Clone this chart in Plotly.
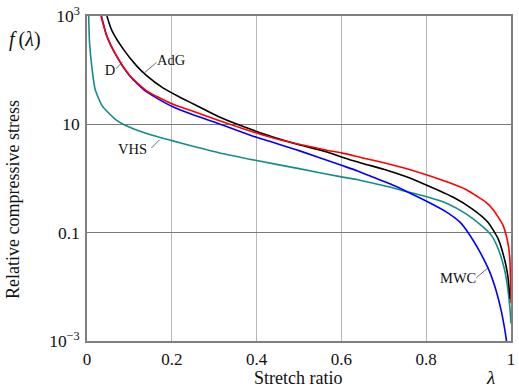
import plotly.graph_objects as go

# ---- data ----
adg_x = [0.047, 0.058, 0.086, 0.117, 0.140, 0.179, 0.217, 0.250, 0.311, 0.400, 0.450, 0.500, 0.568, 0.600, 0.650, 0.700, 0.750, 0.800, 0.864, 0.910, 0.945, 0.969, 0.984, 0.992, 0.998]
adg_y = [1000, 556, 242, 120, 80, 47, 32.3, 24, 13.8, 7.4, 5.5, 4.2, 3.06, 2.5, 1.9, 1.48, 1.1, 0.76, 0.45, 0.27, 0.158, 0.079, 0.034, 0.017, 0.006]

d_x = [0.033, 0.047, 0.070, 0.101, 0.140, 0.200, 0.250, 0.311, 0.400, 0.450, 0.500, 0.568, 0.600, 0.650, 0.700, 0.750, 0.800, 0.852, 0.895, 0.918, 0.940, 0.957, 0.981, 0.992, 0.997, 1.000]
d_y = [1000, 420, 182, 80, 42, 24, 17.4, 11.8, 6.9, 5.3, 4.3, 3.3, 2.97, 2.4, 1.95, 1.54, 1.17, 0.85, 0.62, 0.48, 0.37, 0.27, 0.138, 0.069, 0.035, 0.005]

mwc_x = [0.034, 0.047, 0.070, 0.101, 0.140, 0.200, 0.250, 0.311, 0.400, 0.500, 0.600, 0.638, 0.677, 0.716, 0.755, 0.801, 0.848, 0.879, 0.899, 0.926, 0.949, 0.965, 0.977, 0.988, 0.990]
mwc_y = [1000, 420, 180, 78, 40, 21.5, 15, 10.3, 5.75, 3.27, 1.75, 1.38, 1.04, 0.79, 0.57, 0.38, 0.24, 0.158, 0.1, 0.045, 0.0195, 0.0085, 0.0036, 0.0012, 0.0009]

vhs_x = [0.004, 0.006, 0.012, 0.019, 0.035, 0.050, 0.070, 0.090, 0.120, 0.156, 0.200, 0.250, 0.311, 0.400, 0.500, 0.600, 0.638, 0.677, 0.716, 0.755, 0.801, 0.848, 0.895, 0.934, 0.953, 0.969, 0.984, 0.992, 0.998, 1.000]
vhs_y = [1000, 320, 104, 45, 22.4, 16.5, 11.8, 9.6, 7.7, 6.2, 5.0, 3.95, 3.0, 2.15, 1.52, 1.07, 0.95, 0.81, 0.69, 0.57, 0.46, 0.35, 0.22, 0.128, 0.091, 0.052, 0.022, 0.0098, 0.0036, 0.0021]

series_names = ["VHS", "MWC", "AdG", "D"]
series_colors = ["#138d8a", "#0000ff", "#000000", "#ff0000"]

# curve labels and their leader lines (data coords)
label_text = ["D", "AdG", "VHS", "MWC"]
label_x = [0.0544, 0.1986, 0.1075, 0.8754]
label_y = [97, 147.6, 3.37, 0.0138]
leader_x = [[0.0685, 0.0841], [0.1362, 0.1636], [0.1519, 0.1713], [0.9182, 0.9479]]
leader_y = [[107, 141.6], [90.8, 138], [3.66, 5.19], [0.01476, 0.0231]]

x_ticks = [0, 0.2, 0.4, 0.6, 0.8, 1]
x_ticktext = ["0", "0.2", "0.4", "0.6", "0.8", "1"]
y_ticks = [1e-3, 0.1, 10, 1e3]
y_ticktext = ["10<sup>\u22123</sup>", "0.1", "10", "10<sup>3</sup>"]

FONT = "Liberation Serif"
TXT = "#111111"

fig = go.Figure()
data = {"AdG": (adg_x, adg_y), "D": (d_x, d_y), "MWC": (mwc_x, mwc_y), "VHS": (vhs_x, vhs_y)}
for name, col in zip(series_names, series_colors):
    xs, ys = data[name]
    fig.add_trace(go.Scatter(x=xs, y=ys, mode="lines", name=name,
                             line=dict(color=col, width=1.6, shape="spline", smoothing=0.6),
                             showlegend=False, hoverinfo="skip"))

for lx, ly in zip(leader_x, leader_y):
    fig.add_trace(go.Scatter(x=lx, y=ly, mode="lines", line=dict(color="#444444", width=0.8),
                             showlegend=False, hoverinfo="skip"))

fig.add_trace(go.Scatter(x=label_x, y=label_y, mode="text", text=label_text,
                         textposition="middle center",
                         textfont=dict(family=FONT, size=14.5, color=TXT),
                         showlegend=False, hoverinfo="skip"))

fig.update_xaxes(range=[0, 1], tickvals=x_ticks, ticktext=x_ticktext,
                 showgrid=True, gridcolor="#b8b8b8", gridwidth=1,
                 showline=True, linecolor="#7f7f7f", linewidth=1.5, mirror=True,
                 zeroline=False, ticks="outside", ticklen=2, tickcolor="rgba(0,0,0,0)",
                 ticklabeloverflow="allow",
                 tickfont=dict(family=FONT, size=17, color=TXT))
fig.update_yaxes(type="log", range=[-3, 3], tickvals=y_ticks, ticktext=y_ticktext,
                 showgrid=True, gridcolor="#7a7a7a", gridwidth=1,
                 showline=True, linecolor="#7f7f7f", linewidth=1.5, mirror=True,
                 zeroline=False, ticks="outside", ticklen=2, tickcolor="rgba(0,0,0,0)",
                 ticklabeloverflow="allow",
                 tickfont=dict(family=FONT, size=17.5, color=TXT))

common = dict(xref="paper", yref="paper", showarrow=False, xanchor="center", yanchor="middle")
fig.add_annotation(text="<i>f</i>\u2009(<i>\u03bb</i>)", x=-0.147, y=0.927,
                   font=dict(family=FONT, size=20, color=TXT), **common)
fig.add_annotation(text="Relative compressive stress", x=-0.173, y=0.436, textangle=-90,
                   font=dict(family=FONT, size=18, color=TXT), **common)
fig.add_annotation(text="Stretch ratio", x=0.498, y=-0.115,
                   font=dict(family=FONT, size=18, color=TXT), **common)
fig.add_annotation(text="<i>\u03bb</i>", x=0.951, y=-0.113,
                   font=dict(family=FONT, size=19, color=TXT), **common)

fig.update_layout(width=519, height=389, margin=dict(l=87, r=4, t=11, b=48),
                  plot_bgcolor="white", paper_bgcolor="white",
                  font=dict(family=FONT, color=TXT))

fig.write_html("out.html", config={"displayModeBar": False},
               post_script="document.body.style.margin='0';")
